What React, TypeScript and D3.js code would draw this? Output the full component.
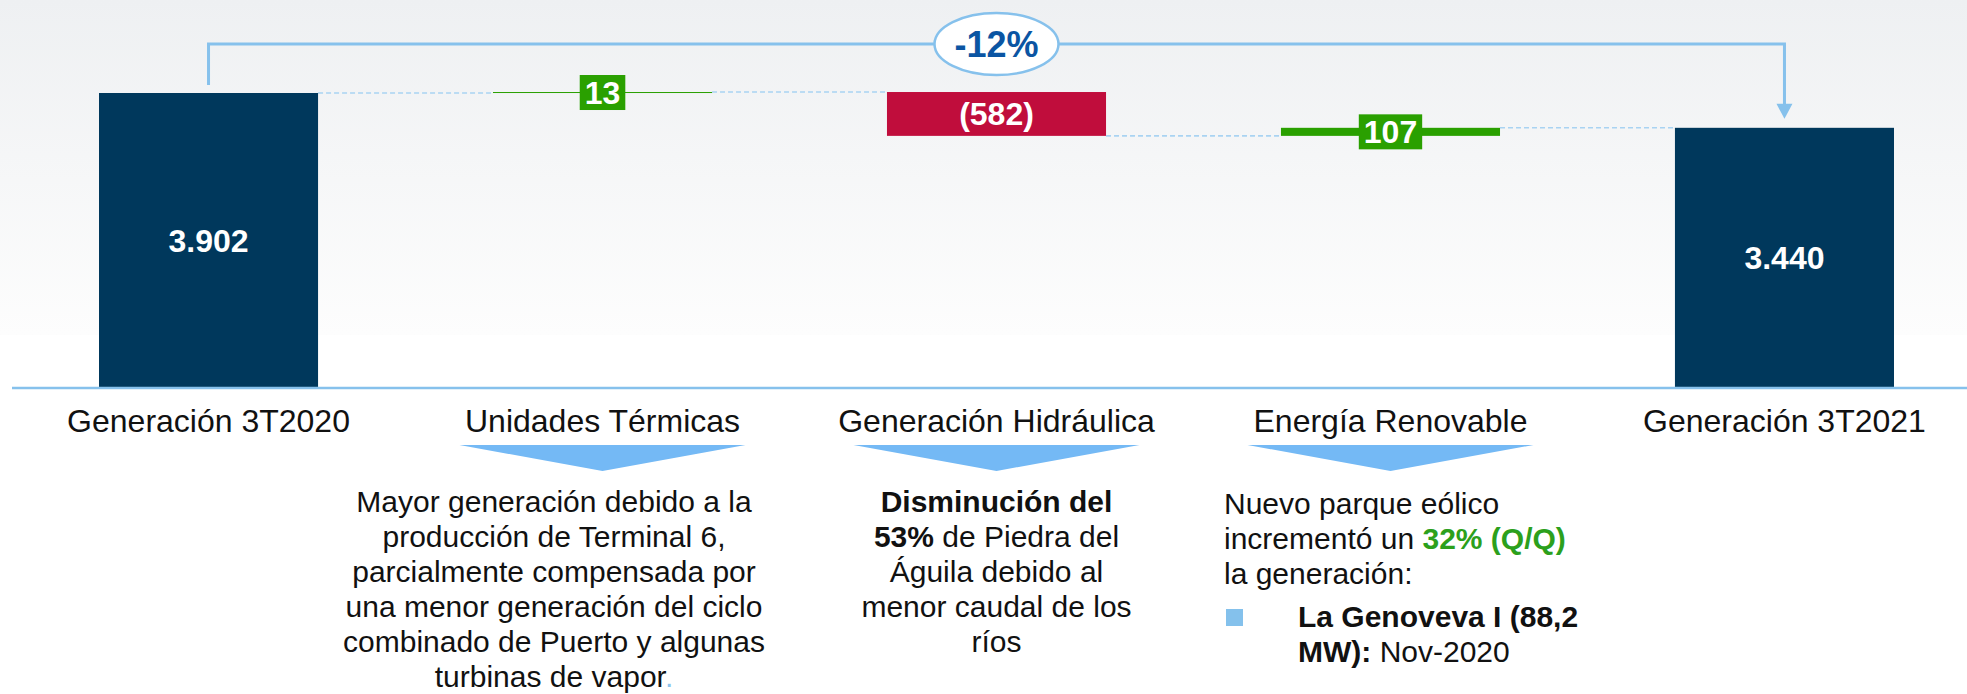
import React from "react";
import * as d3 from "d3";

const categories = [
  "Generación 3T2020",
  "Unidades Térmicas",
  "Generación Hidráulica",
  "Energía Renovable",
  "Generación 3T2021",
];
const values = [3902, 13, -582, 107, 3440];
const kinds = ["total", "delta", "delta", "delta", "total"];
const valueLabels = ["3.902", "13", "(582)", "107", "3.440"];

type Seg = { t: string; b?: boolean; c?: string };
const notesThermal: Seg[][] = [
  [{ t: "Mayor generación debido a la" }],
  [{ t: "producción de Terminal 6," }],
  [{ t: "parcialmente compensada por" }],
  [{ t: "una menor generación del ciclo" }],
  [{ t: "combinado de Puerto y algunas" }],
  [{ t: "turbinas de vapor" }, { t: ".", c: "#8ec5ee" }],
];
const notesHydro: Seg[][] = [
  [{ t: "Disminución del", b: true }],
  [{ t: "53%", b: true }, { t: " de Piedra del" }],
  [{ t: "Águila debido al" }],
  [{ t: "menor caudal de los" }],
  [{ t: "ríos" }],
];
const notesRenew: Seg[][] = [
  [{ t: "Nuevo parque eólico" }],
  [{ t: "incrementó un " }, { t: "32% (Q/Q)", b: true, c: "#2ca01c" }],
  [{ t: "la generación:" }],
];
const notesRenewBullet: Seg[][] = [
  [{ t: "La Genoveva I (88,2", b: true }],
  [{ t: "MW):", b: true }, { t: " Nov-2020" }],
];

const W = 1967;
const H = 694;
const FONT = "'Liberation Sans', Arial, Helvetica, sans-serif";
const NAVY = "#00385c";
const RED = "#c00d3c";
const GREEN = "#2aa000";
const LBLUE = "#86c1ec";
const TRI = "#74b9f5";
const LH = 35;

export default function App() {
  const x = d3
    .scaleBand<string>()
    .domain(categories)
    .range([99, 1894])
    .paddingInner(0.444)
    .paddingOuter(0);
  const y = d3.scaleLinear().domain([0, 3902]).range([387, 93]);
  const bw = x.bandwidth();

  let run = 0;
  const bars = categories.map((c, i) => {
    let y0: number, y1: number;
    if (kinds[i] === "total") {
      y0 = 0;
      y1 = values[i];
      run = values[i];
    } else {
      y0 = run;
      y1 = run + values[i];
      run = y1;
    }
    return { c, i, lo: Math.min(y0, y1), hi: Math.max(y0, y1), end: y1, v: values[i] };
  });

  const cx = (c: string) => (x(c) as number) + bw / 2;
  const first = bars[0];
  const last = bars[bars.length - 1];
  const xL = cx(first.c);
  const xR = cx(last.c);
  const topY = 44;
  const pct = (last.v - first.v) / first.v;
  const pctLabel = d3.format(".0%")(pct).replace("−", "-");

  const renderLines = (
    lines: Seg[][],
    xx: number,
    y0: number,
    anchor: "middle" | "start",
    key: string
  ) =>
    lines.map((line, li) => (
      <text
        key={key + li}
        x={xx}
        y={y0 + li * LH}
        textAnchor={anchor}
        fontFamily={FONT}
        fontSize={30}
        fill="#111"
      >
        {line.map((s, si) => (
          <tspan key={si} fontWeight={s.b ? "bold" : "normal"} fill={s.c || "#111"}>
            {s.t}
          </tspan>
        ))}
      </text>
    ));

  return (
    <svg
      width={W}
      height={H}
      style={{ position: "absolute", left: 0, top: 0, background: "#fff" }}
    >
      <defs>
        <linearGradient id="bg" x1="0" y1="0" x2="0" y2="1">
          <stop offset="0" stopColor="#eef0f2" />
          <stop offset="1" stopColor="#fdfdfd" />
        </linearGradient>
      </defs>
      <rect x={0} y={0} width={W} height={H} fill="#fff" />
      <rect x={0} y={0} width={W} height={335} fill="url(#bg)" />

      {bars.slice(0, -1).map((b, i) => {
        const nb = bars[i + 1];
        return (
          <line
            key={"d" + i}
            x1={(x(b.c) as number) + bw}
            x2={x(nb.c) as number}
            y1={y(b.end)}
            y2={y(b.end)}
            stroke="#a9d3f2"
            strokeWidth={1.6}
            strokeDasharray="5,3"
          />
        );
      })}

      {bars.map((b) => {
        const isTotal = kinds[b.i] === "total";
        const fill = isTotal ? NAVY : b.v < 0 ? RED : GREEN;
        const h = Math.max(1, y(b.lo) - y(b.hi));
        return (
          <rect
            key={"b" + b.i}
            x={x(b.c) as number}
            y={y(b.hi)}
            width={bw}
            height={h}
            fill={fill}
          />
        );
      })}

      {bars.map((b) => {
        const isTotal = kinds[b.i] === "total";
        const label = valueLabels[b.i];
        const midY = (y(b.lo) + y(b.hi)) / 2;
        const fs = 32;
        if (isTotal || b.v < 0) {
          return (
            <text
              key={"l" + b.i}
              x={cx(b.c)}
              y={midY + fs * 0.36}
              textAnchor="middle"
              fontFamily={FONT}
              fontWeight="bold"
              fontSize={fs}
              fill="#fff"
            >
              {label}
            </text>
          );
        }
        const tw = label.length * 0.556 * fs;
        const bwid = tw + 10;
        return (
          <g key={"l" + b.i}>
            <rect
              x={cx(b.c) - bwid / 2}
              y={midY - 17.5}
              width={bwid}
              height={35}
              fill={GREEN}
            />
            <text
              x={cx(b.c)}
              y={midY + fs * 0.36}
              textAnchor="middle"
              fontFamily={FONT}
              fontWeight="bold"
              fontSize={fs}
              fill="#fff"
            >
              {label}
            </text>
          </g>
        );
      })}

      <line x1={12} x2={W} y1={388} y2={388} stroke={LBLUE} strokeWidth={2.5} />

      <path
        d={`M${xL},${y(first.v) - 8} V${topY} H${xR} V${y(last.v) - 22}`}
        fill="none"
        stroke={LBLUE}
        strokeWidth={3}
      />
      <path
        d={`M${xR - 8},${y(last.v) - 24} L${xR + 8},${y(last.v) - 24} L${xR},${y(last.v) - 9} Z`}
        fill={LBLUE}
      />
      <ellipse
        cx={(xL + xR) / 2}
        cy={topY}
        rx={62}
        ry={31}
        fill="#fff"
        stroke={LBLUE}
        strokeWidth={2.5}
      />
      <text
        x={(xL + xR) / 2}
        y={topY + 13}
        textAnchor="middle"
        fontFamily={FONT}
        fontWeight="bold"
        fontSize={36}
        fill="#0b55a3"
      >
        {pctLabel}
      </text>

      {categories.map((c) => (
        <text
          key={"c" + c}
          x={cx(c)}
          y={432}
          textAnchor="middle"
          fontFamily={FONT}
          fontSize={32}
          fill="#111"
        >
          {c}
        </text>
      ))}

      {categories
        .filter((_, i) => kinds[i] === "delta")
        .map((c) => {
          const m = cx(c);
          return (
            <path
              key={"t" + c}
              d={`M${m - 143},445 L${m + 143},445 L${m},471 Z`}
              fill={TRI}
            />
          );
        })}

      {renderLines(notesThermal, 554, 512, "middle", "th")}
      {renderLines(notesHydro, cx(categories[2]), 512, "middle", "hy")}
      {renderLines(notesRenew, 1224, 514, "start", "re")}
      <rect x={1226} y={609} width={17} height={17} fill="#84c1ec" />
      {renderLines(notesRenewBullet, 1298, 627, "start", "rb")}
    </svg>
  );
}
